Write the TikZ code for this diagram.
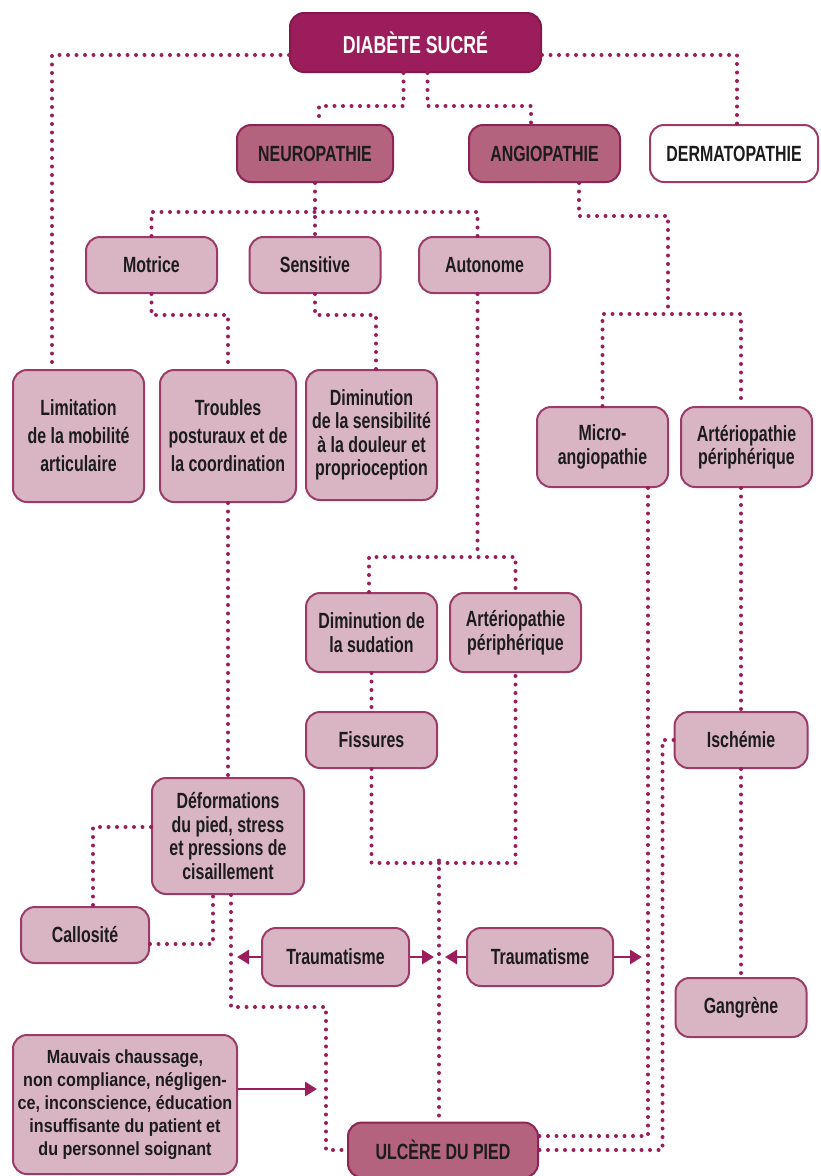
\documentclass[tikz,border=0pt]{standalone}
\usepackage{fontspec}
\setmainfont{Liberation Sans}[FakeStretch=0.725]
\newfontfamily\widefont{Liberation Sans}[FakeStretch=0.85]
\usetikzlibrary{arrows.meta, calc}
\definecolor{plumdark}{HTML}{9B1D5B}
\definecolor{plumline}{HTML}{86174D}
\definecolor{mauvefill}{HTML}{B4637F}
\definecolor{mauveline}{HTML}{8E2456}
\definecolor{rosefill}{HTML}{D9B5C4}
\definecolor{roseline}{HTML}{9C3A68}
\definecolor{ink}{HTML}{1C1C1C}
\tikzset{
    plum/.style     = {draw=plumline, fill=plumdark, rectangle, rounded corners=14pt, line width=2pt, text=white, font=\fontsize{24.5}{27}\selectfont\bfseries, align=center, inner sep=2pt},
    mauve/.style    = {draw=mauveline, fill=mauvefill, rectangle, rounded corners=14pt, line width=2pt, text=ink, font=\fontsize{22}{23.5}\selectfont\bfseries, align=center, inner sep=2pt},
    rose/.style     = {draw=roseline, fill=rosefill, rectangle, rounded corners=14pt, line width=2pt, text=ink, font=\fontsize{22}{23.5}\selectfont\bfseries, align=center, inner sep=2pt},
    blank/.style    = {draw=roseline, fill=white, rectangle, rounded corners=14pt, line width=2pt, text=ink, font=\fontsize{22}{23.5}\selectfont\bfseries, align=center, inner sep=2pt},
    dotline/.style  = {draw=plumdark, line width=4pt, line cap=round, dash pattern=on 0pt off 8.5pt},
    arrowline/.style = {draw=plumdark, line width=2.8pt, -{Triangle[length=12pt,width=14pt]}},
}
\begin{document}
\begin{tikzpicture}[x=1pt, y=-1pt]
  \useasboundingbox (0,0) rectangle (821,1176);
  \node [name=diab, plum, minimum width=251pt, minimum height=59pt] at (415.5,42.5) {DIABÈTE SUCRÉ};
  \node [name=neuro, mauve, minimum width=156pt, minimum height=57pt] at (315,153.5) {NEUROPATHIE};
  \node [name=angio, mauve, minimum width=151pt, minimum height=57pt] at (544.5,153.5) {ANGIOPATHIE};
  \node [name=dermato, blank, minimum width=168pt, minimum height=57pt] at (734,153.5) {DERMATOPATHIE};
  \node [name=motrice, rose, minimum width=131pt, minimum height=56pt] at (151.5,265) {Motrice};
  \node [name=sensitive, rose, minimum width=131pt, minimum height=56pt] at (315,265) {Sensitive};
  \node [name=autonome, rose, minimum width=131pt, minimum height=56pt] at (484.5,265) {Autonome};
  \node [name=limitation, rose, font=\fontsize{22}{28}\selectfont\bfseries, minimum width=131pt, minimum height=132pt] at (78.5,436) {Limitation\\de la mobilité\\articulaire};
  \node [name=troubles, rose, font=\fontsize{22}{28}\selectfont\bfseries, minimum width=136pt, minimum height=132pt] at (228,436) {Troubles\\posturaux et de\\la coordination};
  \node [name=dimsens, rose, minimum width=131pt, minimum height=130pt] at (371.5,435) {Diminution\\de la sensibilité\\à la douleur et\\proprioception};
  \node [name=micro, rose, minimum width=131pt, minimum height=80pt] at (602.5,447) {Micro-\\angiopathie};
  \node [name=arterioA, rose, minimum width=131pt, minimum height=80pt] at (746.5,447) {Artériopathie\\périphérique};
  \node [name=sudation, rose, minimum width=131pt, minimum height=79pt] at (371.5,632.5) {Diminution de\\la sudation};
  \node [name=arterioB, rose, minimum width=131pt, minimum height=79pt] at (515.5,632.5) {Artériopathie\\périphérique};
  \node [name=fissures, rose, minimum width=131pt, minimum height=56pt] at (371.5,740) {Fissures};
  \node [name=ischemie, rose, minimum width=133pt, minimum height=56pt] at (741,740) {Ischémie};
  \node [name=deform, rose, minimum width=152pt, minimum height=116pt] at (228,836) {Déformations\\du pied, stress\\et pressions de\\cisaillement};
  \node [name=callosite, rose, minimum width=128pt, minimum height=56pt] at (85,935) {Callosité};
  \node [name=trauma1, rose, minimum width=147pt, minimum height=58pt] at (335.5,957) {Traumatisme};
  \node [name=trauma2, rose, minimum width=146pt, minimum height=58pt] at (540,957) {Traumatisme};
  \node [name=gangrene, rose, minimum width=131pt, minimum height=59pt] at (741,1007.5) {Gangrène};
  \node [name=mauvais, rose, font=\widefont\bfseries\fontsize{19}{23}\selectfont, minimum width=224pt, minimum height=139pt, inner sep=1pt] at (125,1104.5) {Mauvais chaussage,\\non compliance, négligen-\\ce, inconscience, éducation\\insuffisante du patient et\\du personnel soignant};
  \node [name=ulcere, mauve, minimum width=190pt, minimum height=55pt] at (443,1150) {ULCÈRE DU PIED};

  \draw [dotline] ($(diab.west)+(0,12.5)$) -| ($(limitation.north)+(-26.5,0)$);
  \draw [dotline] ($(diab.east)+(0,12.5)$) -| ($(dermato.north)+(3,0)$);
  \draw [dotline] ($(diab.south)+(-12,0)$) |- ($(neuro.north)+(4,-18)$) -- ($(neuro.north)+(4,0)$);
  \draw [dotline] ($(diab.south)+(12,0)$) |- ($(angio.north)+(-13.5,-18)$) -- ($(angio.north)+(-13.5,0)$);
  \draw [dotline] (neuro.south) -- (sensitive.north);
  \draw [dotline] (motrice.north) |- ($(autonome.north)+(-7,-24)$) -- ($(autonome.north)+(-7,0)$);
  \draw [dotline] (motrice.south) |- ($(troubles.north)+(0,-54)$) -- (troubles.north);
  \draw [dotline] (sensitive.south) |- ($(dimsens.north)+(4.5,-54)$) -- ($(dimsens.north)+(4.5,0)$);
  \draw [dotline] ($(autonome.south)+(-7,0)$) -- ($(sudation.north)+(106,-35)$);
  \draw [dotline] ($(sudation.north)+(-2.5,0)$) |- ($(arterioB.north)+(0,-35)$) -- (arterioB.north);
  \draw [dotline] (sudation.south) -- (fissures.north);
  \draw [dotline] (troubles.south) -- (deform.north);
  \draw [dotline] (fissures.south) |- ($(arterioB.south)+(0,190)$) -- (arterioB.south);
  \draw [dotline] ($(ulcere.north)+(-4,-261)$) -- ($(ulcere.north)+(-4,0)$);
  \draw [dotline] ($(angio.south)+(34.5,0)$) -- ++(0,33) -| ($(micro.north)+(65.5,-92)$);
  \draw [dotline] (micro.north) |- ($(arterioA.north)+(-5.5,-92)$) -- ($(arterioA.north)+(-5.5,0)$);
  \draw [dotline] ($(arterioA.south)+(-5.5,0)$) -- (ischemie.north);
  \draw [dotline] (ischemie.south) -- (gangrene.north);
  \draw [dotline] ($(micro.south)+(45.5,0)$) |- ($(ulcere.east)+(0,-14)$);
  \draw [dotline] (ischemie.west) -- ++(-11,0) |- (ulcere.east);
  \draw [dotline] ($(deform.west)+(0,-9)$) -| ($(callosite.north)+(8,0)$);
  \draw [dotline] ($(callosite.east)+(0,9)$) -| ($(deform.south)+(-15,0)$);
  \draw [dotline] ($(deform.south)+(3,0)$) |- ($(ulcere.west)+(-21,-143)$) |- (ulcere.west);

  \draw [arrowline] (trauma1.west) -- ++(-24,0);
  \draw [arrowline] (trauma1.east) -- ++(24,0);
  \draw [arrowline] (trauma2.west) -- ++(-21,0);
  \draw [arrowline] (trauma2.east) -- ++(28,0);
  \draw [arrowline] ($(mauvais.east)+(0,-15.5)$) -- ++(79,0);
\end{tikzpicture}
\end{document}
